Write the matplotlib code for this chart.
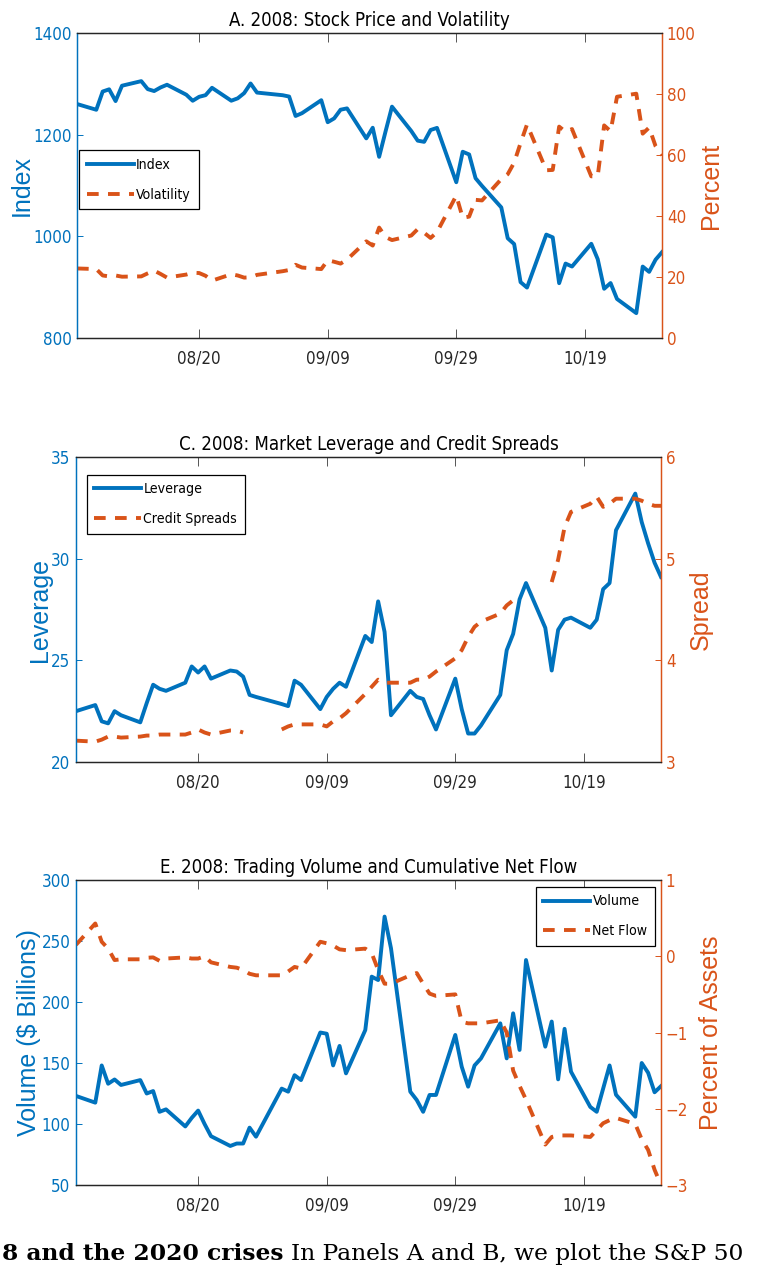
import matplotlib
matplotlib.use("Agg")
import matplotlib.pyplot as plt
import matplotlib.dates as mdates
from matplotlib import font_manager as fm
from matplotlib.textpath import TextPath
import numpy as np
import pandas as pd

BLUE = "#0072BD"
ORANGE = "#D95319"
DARK = "#262626"

# trading days Aug 1 - Oct 31 2008 (market closed on Labor Day)
dates = pd.bdate_range("2008-08-01", "2008-10-31").drop(pd.Timestamp("2008-09-01"))

# Panel A
index_level = [
    1260.3, 1249.0, 1284.9, 1289.2, 1266.1, 1296.3, 1305.3, 1289.6, 1285.8, 1292.9, 1298.2,
    1278.6, 1266.7, 1274.5, 1277.7, 1292.2, 1266.8, 1271.5, 1281.7, 1300.7, 1282.8,
    1277.6, 1275.0, 1236.8, 1242.3, 1267.8, 1224.5, 1232.0, 1249.1, 1251.7, 1192.7, 1213.6,
    1156.4, 1206.5, 1255.1, 1207.1, 1188.2, 1185.9, 1209.2, 1213.3, 1106.4, 1166.4,
    1161.1, 1114.3, 1099.2, 1056.9, 996.2, 984.9, 909.9, 899.2, 1003.4, 998.0, 907.8,
    946.4, 940.6, 985.4, 955.1, 896.8, 908.1, 876.8, 848.9, 940.5, 930.1, 954.1, 968.8,
]
volatility = [
    22.8, 22.6, 20.5, 20.2, 20.5, 20.1, 20.2, 21.2, 22.1, 21.0, 19.8,
    20.8, 21.4, 21.3, 20.4, 18.8, 20.9, 20.5, 19.8, 19.9, 20.7,
    21.9, 22.3, 24.0, 23.1, 22.6, 25.5, 25.0, 24.4, 25.7, 31.7, 30.3,
    36.2, 33.1, 32.1, 33.6, 35.7, 34.5, 32.8, 34.7, 46.7, 39.4,
    39.8, 45.3, 45.1, 52.1, 53.7, 57.5, 63.9, 70.0, 55.0, 55.1, 69.3,
    67.6, 68.5, 53.0, 53.1, 69.7, 67.8, 79.1, 80.1, 67.0, 69.0, 62.9, 59.9,
]

# Panel C
leverage = [
    22.5, 22.8, 22.0, 21.9, 22.5, 22.3, 21.95, 22.9, 23.8, 23.6, 23.5,
    23.9, 24.7, 24.4, 24.7, 24.1, 24.5, 24.45, 24.2, 23.3, 23.2,
    22.85, 22.75, 24.0, 23.8, 22.6, 23.2, 23.6, 23.9, 23.7, 26.2, 25.9,
    27.9, 26.4, 22.3, 23.5, 23.2, 23.1, 22.3, 21.6, 24.1, 22.6,
    21.4, 21.4, 21.8, 23.3, 25.5, 26.3, 28.0, 28.8, 26.6, 24.5, 26.5,
    27.0, 27.1, 26.6, 27.0, 28.5, 28.8, 31.4, 33.2, 31.8, 30.75, 29.8, 29.1,
]
credit_spread = [
    3.21, 3.20, 3.22, 3.25, 3.25, 3.24, 3.25, 3.26, 3.26, 3.27, 3.27,
    3.27, 3.29, 3.32, 3.29, 3.27, 3.31, 3.31, 3.29, np.nan, np.nan,
    3.32, 3.35, 3.37, 3.37, 3.37, 3.35, 3.40, 3.43, 3.48, 3.67, 3.74,
    3.81, 3.78, 3.78, 3.78, 3.81, 3.81, 3.84, 3.89, 4.02, 4.10,
    4.23, 4.33, 4.38, 4.46, 4.54, 4.59, np.nan, 4.85, np.nan, 4.77, 4.99,
    5.31, 5.46, 5.54, 5.61, 5.51, 5.54, 5.59, 5.59, 5.57, 5.54, 5.52, 5.52,
]

# Panel E
volume = [
    123, 117.5, 148, 133, 136.5, 132, 136, 125, 127, 110, 112,
    98, 105, 111, 100, 90, 82, 84, 84, 97, 89.6,
    129, 126.5, 140, 136, 175, 174, 148, 164, 141.5, 177, 220.8,
    218, 270, 244, 126.5, 119.7, 110, 123.8, 123.8, 173, 147,
    130.6, 148, 153.8, 182.5, 153.8, 190.7, 160.7, 234.4, 163.4, 184, 136.6,
    178, 142.9, 114, 110, 129, 148, 124, 106, 150, 142, 126, 131,
]
net_flow = [
    0.15, 0.43, 0.19, 0.10, -0.05, -0.04, -0.04, -0.02, -0.015, -0.06, -0.03,
    -0.015, -0.03, -0.03, 0.0, -0.08, -0.14, -0.15, -0.18, -0.23, -0.25,
    -0.25, -0.20, -0.14, -0.16, 0.19, 0.17, 0.14, 0.09, 0.08, 0.10, 0.04,
    -0.18, -0.36, -0.36, -0.25, -0.22, -0.36, -0.49, -0.52, -0.50, -0.86,
    -0.88, -0.88, -0.88, -0.84, -1.0, -1.5, -1.7, -1.88, -2.47, -2.37, -2.35,
    -2.35, -2.35, -2.37, -2.28, -2.19, -2.15, -2.12, -2.2, -2.4, -2.54, -2.8, -3.0,
]

tick_dates = pd.to_datetime(["2008-08-20", "2008-09-09", "2008-09-29", "2008-10-19"])
x_range = (pd.Timestamp("2008-08-01"), pd.Timestamp("2008-10-31"))

panels = [
    dict(title="A. 2008: Stock Price and Volatility", left=index_level, right=volatility,
         left_name="Index", right_name="Volatility", left_label="Index", right_label="Percent",
         left_lim=(800, 1400), left_ticks=[800, 1000, 1200, 1400],
         right_lim=(0, 100), right_ticks=[0, 20, 40, 60, 80, 100],
         box=[77, 33, 585, 305], leg_loc="upper left", leg_anchor=(0.004, 0.615),
         lx=-0.094, rx=1.083),
    dict(title="C. 2008: Market Leverage and Credit Spreads", left=leverage, right=credit_spread,
         left_name="Leverage", right_name="Credit Spreads", left_label="Leverage", right_label="Spread",
         left_lim=(20, 35), left_ticks=[20, 25, 30, 35],
         right_lim=(3, 6), right_ticks=[3, 4, 5, 6],
         box=[76, 457, 585, 305], leg_loc="upper left", leg_anchor=(0.018, 0.942),
         lx=-0.062, rx=1.068),
    dict(title="E. 2008: Trading Volume and Cumulative Net Flow", left=volume, right=net_flow,
         left_name="Volume", right_name="Net Flow", left_label="Volume ($ Billions)",
         right_label="Percent of Assets",
         left_lim=(50, 300), left_ticks=[50, 100, 150, 200, 250, 300],
         right_lim=(-3, 1), right_ticks=[-3, -2, -1, 0, 1],
         box=[76, 880, 585, 305], leg_loc="upper right", leg_anchor=(0.99, 0.978),
         lx=-0.080, rx=1.085),
]


def narrow_font_file():
    # the reference uses a squeezed sans serif; take a condensed face if one is installed
    ttf = fm.fontManager.ttflist
    for f in ttf:
        if f.name in ("Liberation Sans Narrow", "Arial Narrow") and f.style == "normal" \
                and f.weight in (400, "normal", "regular"):
            return f.fname
    for f in ttf:
        base = f.fname.split("/")[-1]
        if base == "DejaVuSansCondensed.ttf":
            return f.fname
    for f in ttf:
        if f.name in ("Roboto Condensed", "Open Sans Condensed") and f.style == "normal" \
                and f.weight in (400, "normal", "regular"):
            return f.fname
    for f in ttf:
        if f.name in ("Noto Sans", "Roboto", "Open Sans") and f.stretch == "condensed" \
                and f.style == "normal" and f.weight in (400, "normal", "regular"):
            return f.fname
    return None


path = narrow_font_file()
if path:
    narrow = fm.FontProperties(fname=path)
else:
    narrow = fm.FontProperties(family="Liberation Sans")
wide = fm.FontProperties(family="Liberation Sans")


def fit_size(s, target_px, fp):
    # font size (pt at 100 dpi) that makes string s about target_px wide
    w = TextPath((0, 0), s, size=100, prop=fp).get_extents().width
    return target_px * 72 / w


def with_size(fp, size):
    p = fp.copy()
    p.set_size(size)
    return p


tick_fp = with_size(narrow, fit_size("1400", 36, narrow))
title_fp = with_size(narrow, fit_size("A. 2008: Stock Price and Volatility", 280, narrow))
leg_size = fit_size("Volatility", 54, narrow)
leg_fp = with_size(narrow, leg_size)
label_fp = with_size(wide, 18)

W, H = 768, 1266
fig = plt.figure(figsize=(W / 100, H / 100), dpi=100)

for p in panels:
    x0, y0, w, h = p["box"]
    ax = fig.add_axes([x0 / W, 1 - (y0 + h) / H, w / W, h / H])
    ax2 = ax.twinx()

    l1, = ax.plot(dates, p["left"], color=BLUE, lw=2.8)
    l2, = ax2.plot(dates, p["right"], color=ORANGE, lw=2.8, linestyle=(0, (3.0, 2.4)))

    ax.set_xlim(*x_range)
    ax.set_ylim(*p["left_lim"])
    ax.set_yticks(p["left_ticks"])
    ax2.set_ylim(*p["right_lim"])
    ax2.set_yticks(p["right_ticks"])
    ax.set_xticks(tick_dates)
    ax.xaxis.set_major_formatter(mdates.DateFormatter("%m/%d"))

    ax.tick_params(axis="x", direction="in", top=True, length=6.5, width=0.7,
                   color="#555555", labelcolor=DARK, pad=8)
    ax.tick_params(axis="y", direction="in", length=4.5, width=0.7, color=BLUE,
                   labelcolor=BLUE, pad=4)
    ax2.tick_params(axis="y", direction="in", length=4.5, width=0.7, color=ORANGE,
                    labelcolor=ORANGE, pad=3.5)
    for lab in ax.get_xticklabels() + ax.get_yticklabels() + ax2.get_yticklabels():
        lab.set_fontproperties(tick_fp)

    for a in (ax, ax2):
        a.spines["top"].set_color(DARK)
        a.spines["bottom"].set_color(DARK)
        a.spines["left"].set_color(BLUE)
        a.spines["right"].set_color(ORANGE)
        for s in a.spines.values():
            s.set_linewidth(0.9)

    ax.set_title(p["title"], fontproperties=title_fp, color="black", pad=5)
    ax.set_ylabel(p["left_label"], fontproperties=label_fp, color=BLUE, va="center")
    ax.yaxis.set_label_coords(p["lx"], 0.5)
    ax2.set_ylabel(p["right_label"], fontproperties=label_fp, color=ORANGE, va="center",
                   rotation=90)
    ax2.yaxis.set_label_coords(p["rx"], 0.5)

    em = leg_size * 100 / 72
    leg = ax2.legend([l1, l2], [p["left_name"], p["right_name"]], loc=p["leg_loc"],
                     bbox_to_anchor=p["leg_anchor"], prop=leg_fp,
                     frameon=True, fancybox=False, framealpha=1, edgecolor="black",
                     handlelength=47 / em, handletextpad=0.15, labelspacing=1.1,
                     borderpad=0.55, borderaxespad=0)
    leg.get_frame().set_linewidth(0.9)

# caption fragment at the bottom edge
serif_b = fm.FontProperties(family="DejaVu Serif", weight="bold")
serif = fm.FontProperties(family="DejaVu Serif")
cap_bold = "8 and the 2020 crises"
cap_rest = "In Panels A and B, we plot the S&P 50"
cap_size = fit_size(cap_bold, 280, serif_b)
fig.text(2 / W, 6 / H, cap_bold, fontproperties=with_size(serif_b, cap_size),
         va="baseline", ha="left")
fig.text(291 / W, 6 / H, cap_rest,
         fontproperties=with_size(serif, min(cap_size, fit_size(cap_rest, 472, serif))),
         va="baseline", ha="left")

fig.savefig("out.png", dpi=100)
